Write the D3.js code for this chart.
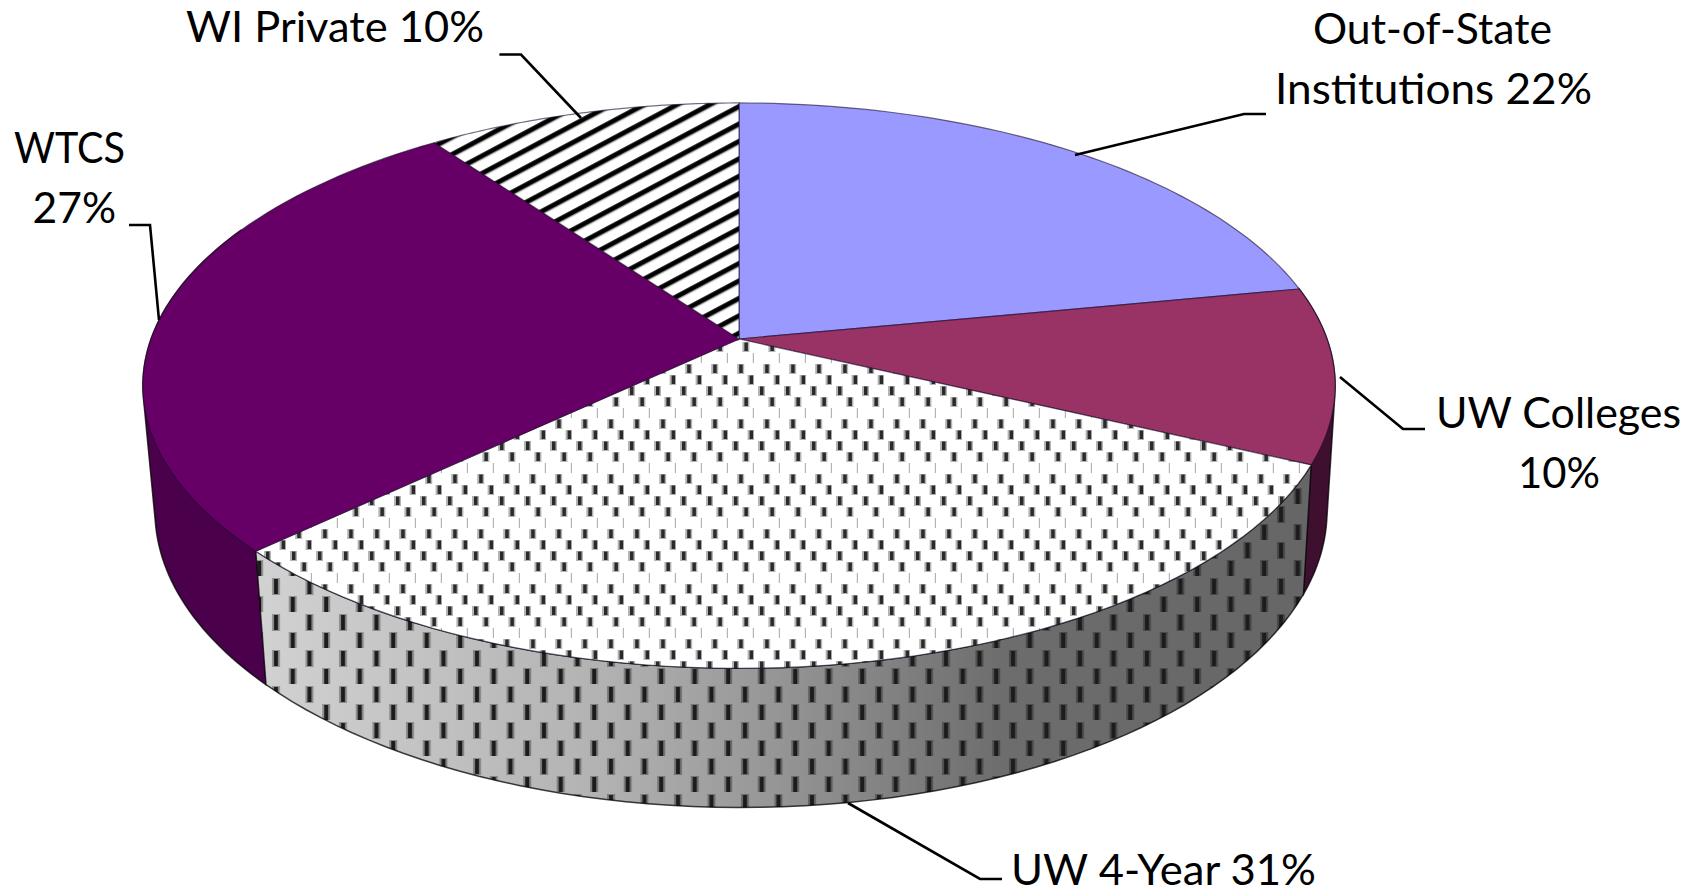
<!DOCTYPE html>
<html><head><meta charset="utf-8">
<style>html,body{margin:0;padding:0;background:#fff;overflow:hidden}svg{display:block}</style>
<script src="https://cdn.jsdelivr.net/npm/d3@7/dist/d3.min.js"></script>
</head><body><svg id="c" width="1704" height="895"></svg>
<script>
// ---- data ----
const categories = ["Out-of-State Institutions","UW Colleges","UW 4-Year","WTCS","WI Private"];
const shares = [22,10,31,27,10];
const labelLines = [["Out-of-State","Institutions 22%"],["UW Colleges","10%"],["UW 4-Year 31%"],["WTCS","27%"],["WI Private 10%"]];
const topColors = ["#9999ff","#993366","url(#dots)","#660066","url(#stripes)"];
const sideColors = ["#6e6eb8","#3f0f30","url(#sideGrad)","#4b004b","#888"];

// ---- layout ----
const W=1704,H=895;
const persp=0.165;
const topRim={x:739,y:339,a:588,b:275};
const baseRim={x:741,y:462,a:578,b:288.5};
const rim=(r,t)=>{const u=Math.sin(t),v=Math.cos(t),w=1+persp*v;return [r.x+r.a*u/w,r.y-r.b*v/w];};
const labelBoxes=[
 [[1313,1552,44],[1275,1592,104]],
 [[1436,1681,428],[1518,1600,488]],
 [[1011,1316,885]],
 [[14,125,163],[32.5,116,222.6]],
 [[186,484,42]]];
const leaders=[
 [[1266,114],[1244,114],[1075,155]],
 [[1425,429],[1403,429],[1340,377]],
 [[1002,879],[980,879],[848,803]],
 [[129,225],[150,225],[159,320]],
 [[499.4,54.5],[521,54.5],[581,118]]];

const svg=d3.select("#c");
const defs=svg.append("defs");

const grad=defs.append("linearGradient").attr("id","sideGrad").attr("gradientUnits","userSpaceOnUse")
  .attr("x1",255).attr("x2",1310).attr("y1",0).attr("y2",0);
[[0,"#d2d2d2"],[.33,"#b2b2b2"],[.53,"#8f8f8f"],[.71,"#6d6d6d"],[1,"#666"]].forEach(s=>grad.append("stop").attr("offset",s[0]).attr("stop-color",s[1]));

// dotted top: lattice (26,0),(10.4,11)
const dots=defs.append("pattern").attr("id","dots").attr("patternUnits","userSpaceOnUse").attr("width",26).attr("height",55);
dots.append("rect").attr("width",26).attr("height",55).attr("fill","#fff");
d3.range(5).forEach(i=>{
  const x=(i*10.4)%26+6,y=i*11+1;
  dots.append("rect").attr("x",x-2).attr("y",y).attr("width",7).attr("height",10).attr("fill","#b4b4b4");
  dots.append("rect").attr("x",x).attr("y",y+.5).attr("width",3.5).attr("height",8.5).attr("fill","#2a2a2a");
});
// dashes on the front wall: lattice (33.5,0),(16.75,18)
const dash=defs.append("pattern").attr("id","dash").attr("patternUnits","userSpaceOnUse").attr("width",33.5).attr("height",36);
d3.range(2).forEach(i=>{
  const x=i*16.75+6,y=i*18+2;
  dash.append("rect").attr("x",x-2).attr("y",y).attr("width",8).attr("height",17).attr("fill","#000").attr("opacity",.3);
  dash.append("rect").attr("x",x).attr("y",y+1).attr("width",4).attr("height",15).attr("fill","#1c1c1c");
});
// stripes
const st=defs.append("pattern").attr("id","stripes").attr("patternUnits","userSpaceOnUse").attr("width",40).attr("height",15.4)
  .attr("patternTransform","translate(739,121) rotate(-28)");
st.append("rect").attr("width",40).attr("height",15.4).attr("fill","#fff");
st.append("rect").attr("y",-1).attr("width",40).attr("height",7).attr("fill","#999");
st.append("rect").attr("y",0.3).attr("width",40).attr("height",4.4).attr("fill","#000");

const arcs=d3.pie().sort(null).value(d=>d).startAngle(0).endAngle(2*Math.PI)(shares);
const line=d3.line();
const samples=(a,b)=>d3.range(0,61).map(i=>a+(b-a)*i/60);
const rimPath=(r,a,b)=>samples(a,b).map(t=>rim(r,t));

// walls: only the slices facing the viewer; the dark ones first, the front wall over them
const wallG=svg.append("g");
const deg=d=>d*Math.PI/180;
[1,3,2].forEach(i=>{
  const d=arcs[i];
  const a=Math.max(d.startAngle,deg(60)), b=Math.min(d.endAngle,deg(295));
  const pts=rimPath(topRim,a,b).concat(rimPath(baseRim,b,a));
  const p=(i===2?line(pts):line(d3.polygonHull(pts)))+"Z";
  wallG.append("path").attr("d",p).attr("fill",sideColors[i]);
  if(i===2) wallG.append("path").attr("d",p).attr("fill","url(#dash)");
  wallG.append("path").attr("d",p).attr("fill","none").attr("stroke","#000").attr("stroke-opacity",.75).attr("stroke-width",1.5);
});

// top face
const topG=svg.append("g");
arcs.forEach((d,i)=>{
  const pts=[[topRim.x,topRim.y]].concat(rimPath(topRim,d.startAngle,d.endAngle));
  topG.append("path").attr("d",line(pts)+"Z").attr("fill",topColors[i])
    .attr("stroke","#1a0a2a").attr("stroke-opacity",.6).attr("stroke-width",1.2).attr("stroke-linejoin","round");
});

// leaders
svg.append("g").selectAll("path").data(leaders).join("path")
  .attr("d",d=>line(d)).attr("fill","none").attr("stroke","#000").attr("stroke-width",2.6);

// labels
const lg=svg.append("g").attr("font-family","Lato, 'Open Sans', sans-serif").attr("font-size",42).attr("fill","#000");
labelLines.forEach((lines,i)=>lines.forEach((t,j)=>{
  const b=labelBoxes[i][j];
  lg.append("text").attr("x",b[0]).attr("y",b[2]).attr("textLength",b[1]-b[0])
    .attr("lengthAdjust","spacingAndGlyphs").text(t);
}));
</script></body></html>
